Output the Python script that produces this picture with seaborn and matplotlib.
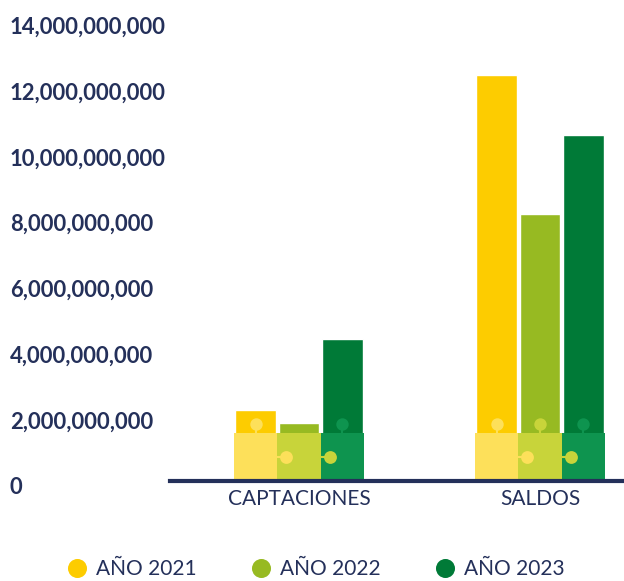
import matplotlib
matplotlib.use("Agg")
import matplotlib.pyplot as plt
import matplotlib.transforms as mtransforms
from matplotlib.patches import FancyBboxPatch
from matplotlib.lines import Line2D
import pandas as pd
import seaborn as sns

sns.set_theme(style="white")
plt.rcParams['font.family'] = ['Lato', 'DejaVu Sans']

CATEGORIAS = ['CAPTACIONES', 'SALDOS']
ANIOS = ['AÑO 2021', 'AÑO 2022', 'AÑO 2023']
VALORES = {
    'AÑO 2021': [2.15e9, 12.32e9],
    'AÑO 2022': [1.76e9, 8.12e9],
    'AÑO 2023': [4.32e9, 10.50e9],
}
TICKS = [0, 2e9, 4e9, 6e9, 8e9, 10e9, 12e9, 14e9]

CORES = ['#FDCC00', '#97BA22', '#007A37']
CORES_PIEZA = ['#FDE05A', '#C8D43A', '#0E944F']
NAVY = '#24305A'

df = pd.DataFrame([(c, a, VALORES[a][i]) for a in ANIOS for i, c in enumerate(CATEGORIAS)],
                  columns=['categoria', 'anio', 'valor'])

fig = plt.figure(figsize=(6.24, 5.81), dpi=100)
ax = fig.add_axes([170 / 624, 100 / 581, 454 / 624, 461 / 581])

sns.barplot(data=df, x='categoria', y='valor', hue='anio', hue_order=ANIOS,
            palette=CORES, width=0.54, gap=0.06, saturation=1, ax=ax, legend=False)

ax.set_xlim(-0.535, 1.349)
ax.set_ylim(0, 14e9)
ax.set_yticks(TICKS)
ax.set_yticklabels([f"{int(t):,}" for t in TICKS])
# etiquetas alineadas a la izquierda en x=10px
ax.tick_params(axis='y', length=0, pad=160 * 72 / 100, labelsize=15.8, labelcolor=NAVY)
offset = mtransforms.ScaledTranslation(0, -5 / 100, fig.dpi_scale_trans)
for lab in ax.get_yticklabels():
    lab.set_horizontalalignment('left')
    lab.set_fontweight('bold')
    lab.set_transform(lab.get_transform() + offset)
ax.tick_params(axis='x', length=0, pad=6, labelsize=15, labelcolor=NAVY)
ax.set_xlabel('')
ax.set_ylabel('')
for s in ['top', 'right', 'left']:
    ax.spines[s].set_visible(False)
ax.spines['bottom'].set_color(NAVY)
ax.spines['bottom'].set_linewidth(3)
ax.spines['bottom'].set_zorder(5)

# piezas de rompecabezas en la base de cada barra
slot = 0.54 / 3
alto_pieza = 1.47e9
for j, anio in enumerate(ANIOS):
    for i, c in enumerate(CATEGORIAS):
        xc = i + (j - 1) * slot
        ax.add_patch(FancyBboxPatch((xc - slot / 2, 0), slot, alto_pieza,
                                    boxstyle="square,pad=0", facecolor=CORES_PIEZA[j],
                                    edgecolor='none', zorder=3))
        # perilla superior
        if VALORES[anio][i] > 2.0e9:
            ax.plot([xc, xc], [alto_pieza, 1.7e9], color=CORES_PIEZA[j], lw=1.5, zorder=3)
            ax.scatter([xc], [1.73e9], s=80, color=CORES_PIEZA[j], zorder=4, linewidths=0)
        # perilla lateral hacia la derecha
        if j < 2:
            xe = xc + slot / 2
            ax.plot([xe - 0.01, xe + 0.03], [0.73e9, 0.73e9], color=CORES_PIEZA[j], lw=1.5, zorder=4)
            ax.scatter([xe + 0.037], [0.73e9], s=85, color=CORES_PIEZA[j], zorder=4, linewidths=0)

handles = [Line2D([0], [0], marker='o', linestyle='', markersize=13.7,
                  markerfacecolor=col, markeredgecolor='none') for col in CORES]
fig.legend(handles, ANIOS, loc='center', bbox_to_anchor=(0.506, 1 - 569 / 581), ncol=3,
           frameon=False, fontsize=15, labelcolor=NAVY, handletextpad=0.4,
           columnspacing=2.6, handlelength=1.0, borderpad=0)

fig.savefig("out.png", dpi=100)
